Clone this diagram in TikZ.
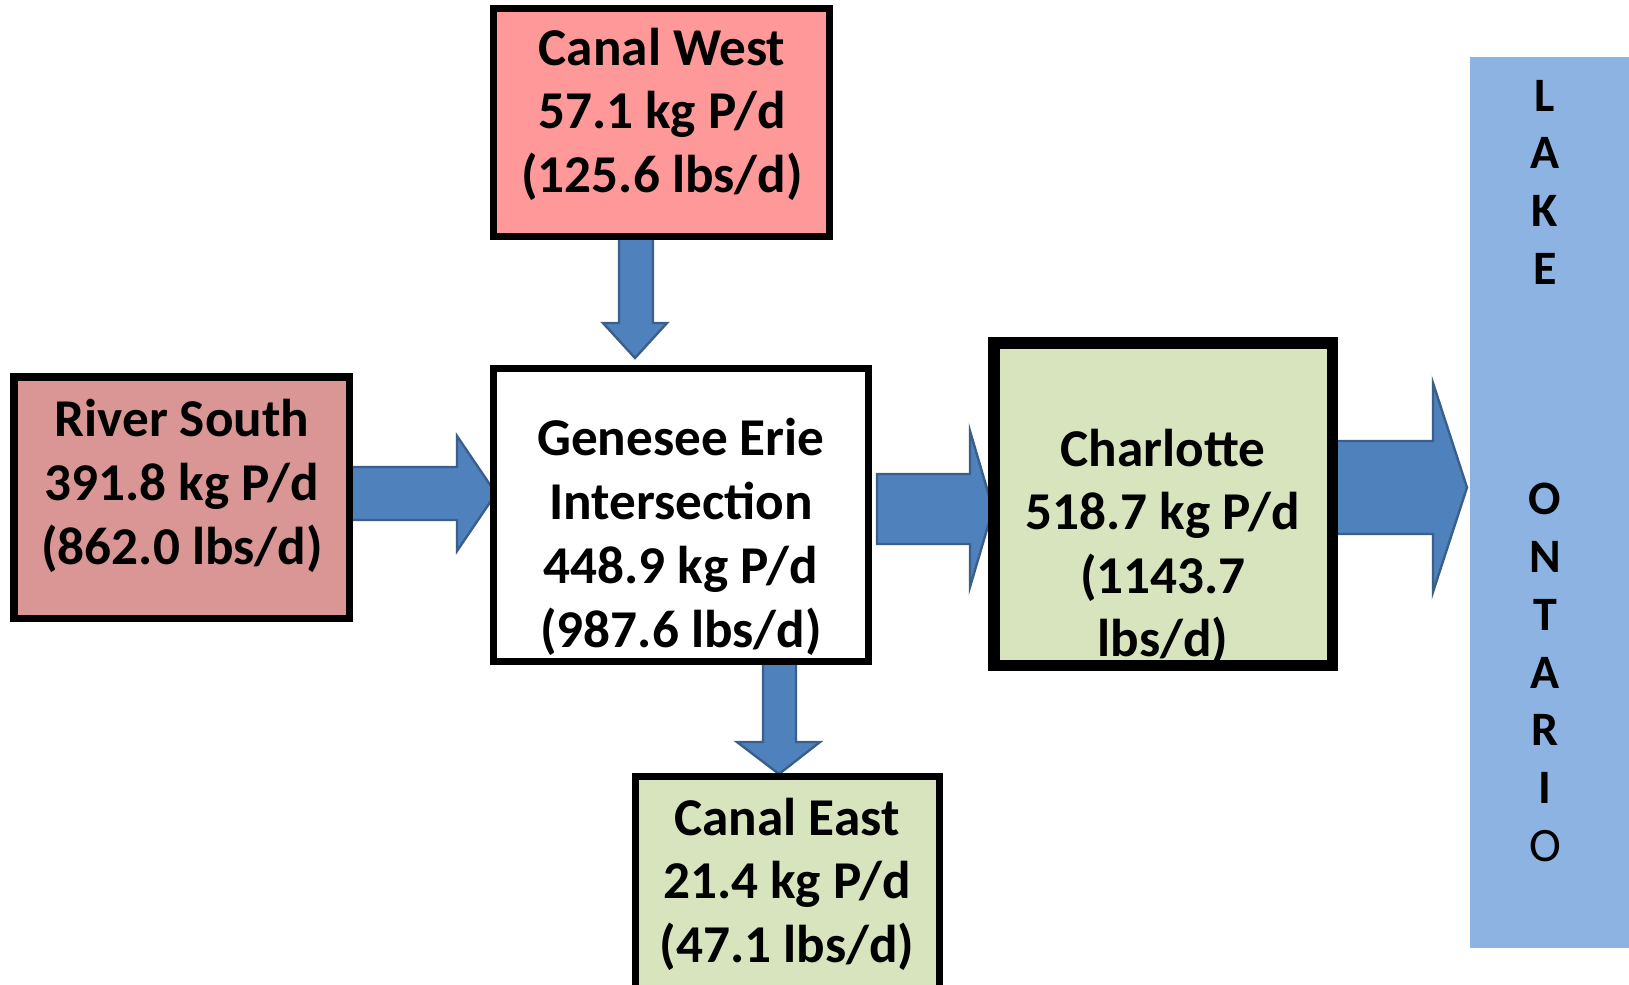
\documentclass[tikz,border=0pt]{standalone}
\usepackage{fontspec}
\setmainfont{Carlito}
\usetikzlibrary{fit}
\definecolor{cwred}{HTML}{FF9999}
\definecolor{rsred}{HTML}{D99694}
\definecolor{palegreen}{HTML}{D7E4BD}
\definecolor{arrowblue}{HTML}{4F81BD}
\definecolor{arrowedge}{HTML}{3A5F8B}
\definecolor{lakeblue}{HTML}{8DB3E2}
\begin{document}
\begin{tikzpicture}[x=0.5pt,y=-0.5pt,
  box/.style={inner sep=0pt,outer sep=0pt,draw=none},
  lbl/.style={anchor=base,inner sep=0pt,font=\fontsize{26.6pt}{32pt}\selectfont\bfseries},
  lk/.style={anchor=base,inner sep=0pt,font=\fontsize{24pt}{29pt}\selectfont\bfseries},
  lkr/.style={anchor=base,inner sep=0pt,font=\fontsize{24pt}{29pt}\selectfont},
  blk/.style={fill=arrowblue,draw=arrowedge,line width=1.2pt,line join=miter}]
\useasboundingbox (0,0) rectangle (1629,985);
\clip (0,0) rectangle (1629,985);

% lake
\node[box,fill=lakeblue,fit={(1470,57)(1629,948)}] (lake) {};
\node[lk] (l0) at (1545,111) {L};
\node[lk] (l1) at (1545,168.7) {A};
\node[lk] (l2) at (1545,226.4) {K};
\node[lk] (l3) at (1545,284.1) {E};
\node[lk] (l7) at (1545,514.9) {O};
\node[lk] (l8) at (1545,572.6) {N};
\node[lk] (l9) at (1545,630.3) {T};
\node[lk] (l10) at (1545,688) {A};
\node[lk] (l11) at (1545,745.7) {R};
\node[lk] (l12) at (1545,803.4) {I};
\node[lkr] (l13) at (1545,861.1) {O};

% block arrows
\draw[blk] (619,236) -- (653,236) -- (653,323) -- (667,323) -- (635,358) -- (603,323) -- (619,323) -- cycle;
\draw[blk] (348,467) -- (457,467) -- (457,436) -- (496,493.5) -- (457,551) -- (457,520) -- (348,520) -- cycle;
\draw[blk] (877,474) -- (970,474) -- (970,431) -- (993,509) -- (970,587) -- (970,544) -- (877,544) -- cycle;
\draw[blk] (1334,441) -- (1433,441) -- (1433,383) -- (1467,487.5) -- (1433,592) -- (1433,534) -- (1334,534) -- cycle;
\draw[blk] (763,662) -- (796,662) -- (796,742) -- (820,742) -- (779,774) -- (737,742) -- (763,742) -- cycle;

% Canal West
\node[box,fill=cwred,fit={(493.5,8.5)(829.5,236.5)}] (cw) {};
\node[lbl] (cw1) at (662,65) {Canal West};
\node[lbl] (cw2) at (662,128.5) {57.1 kg P/d};
\node[lbl] (cw3) at (662,192) {(125.6 lbs/d)};
\draw[line width=3.5pt] (cw.north west) rectangle (cw.south east);

% River South
\node[box,fill=rsred,fit={(13.75,376.75)(349.25,618.25)}] (rs) {};
\node[lbl] (rs1) at (182,436) {River South};
\node[lbl] (rs2) at (182,500) {391.8 kg P/d};
\node[lbl] (rs3) at (182,564) {(862.0 lbs/d)};
\draw[line width=3.75pt] (rs.north west) rectangle (rs.south east);

% Genesee Erie Intersection
\node[box,fill=white,fit={(493.5,368.5)(868.5,661.5)}] (ge) {};
\node[lbl] (ge1) at (681,455) {Genesee Erie};
\node[lbl] (ge2) at (681,519) {Intersection};
\node[lbl] (ge3) at (681,583) {448.9 kg P/d};
\node[lbl] (ge4) at (681,647) {(987.6 lbs/d)};
\draw[line width=3.5pt] (ge.north west) rectangle (ge.south east);

% Charlotte
\node[box,fill=palegreen,fit={(993.75,342.75)(1332.25,665.25)}] (ch) {};
\node[lbl] (ch1) at (1163,466) {Charlotte};
\node[lbl] (ch2) at (1163,529.5) {518.7 kg P/d};
\node[lbl] (ch3) at (1163,593) {(1143.7};
\node[lbl] (ch4) at (1163,656.5) {lbs/d)};
\draw[line width=5.75pt] (ch.north west) rectangle (ch.south east);

% Canal East
\node[box,fill=palegreen,fit={(635.5,776.5)(939.5,1000)}] (ce) {};
\node[lbl] (ce1) at (787,835) {Canal East};
\node[lbl] (ce2) at (787,898) {21.4 kg P/d};
\node[lbl] (ce3) at (787,962) {(47.1 lbs/d)};
\draw[line width=3.5pt] (ce.north west) rectangle (ce.south east);
\end{tikzpicture}
\end{document}
